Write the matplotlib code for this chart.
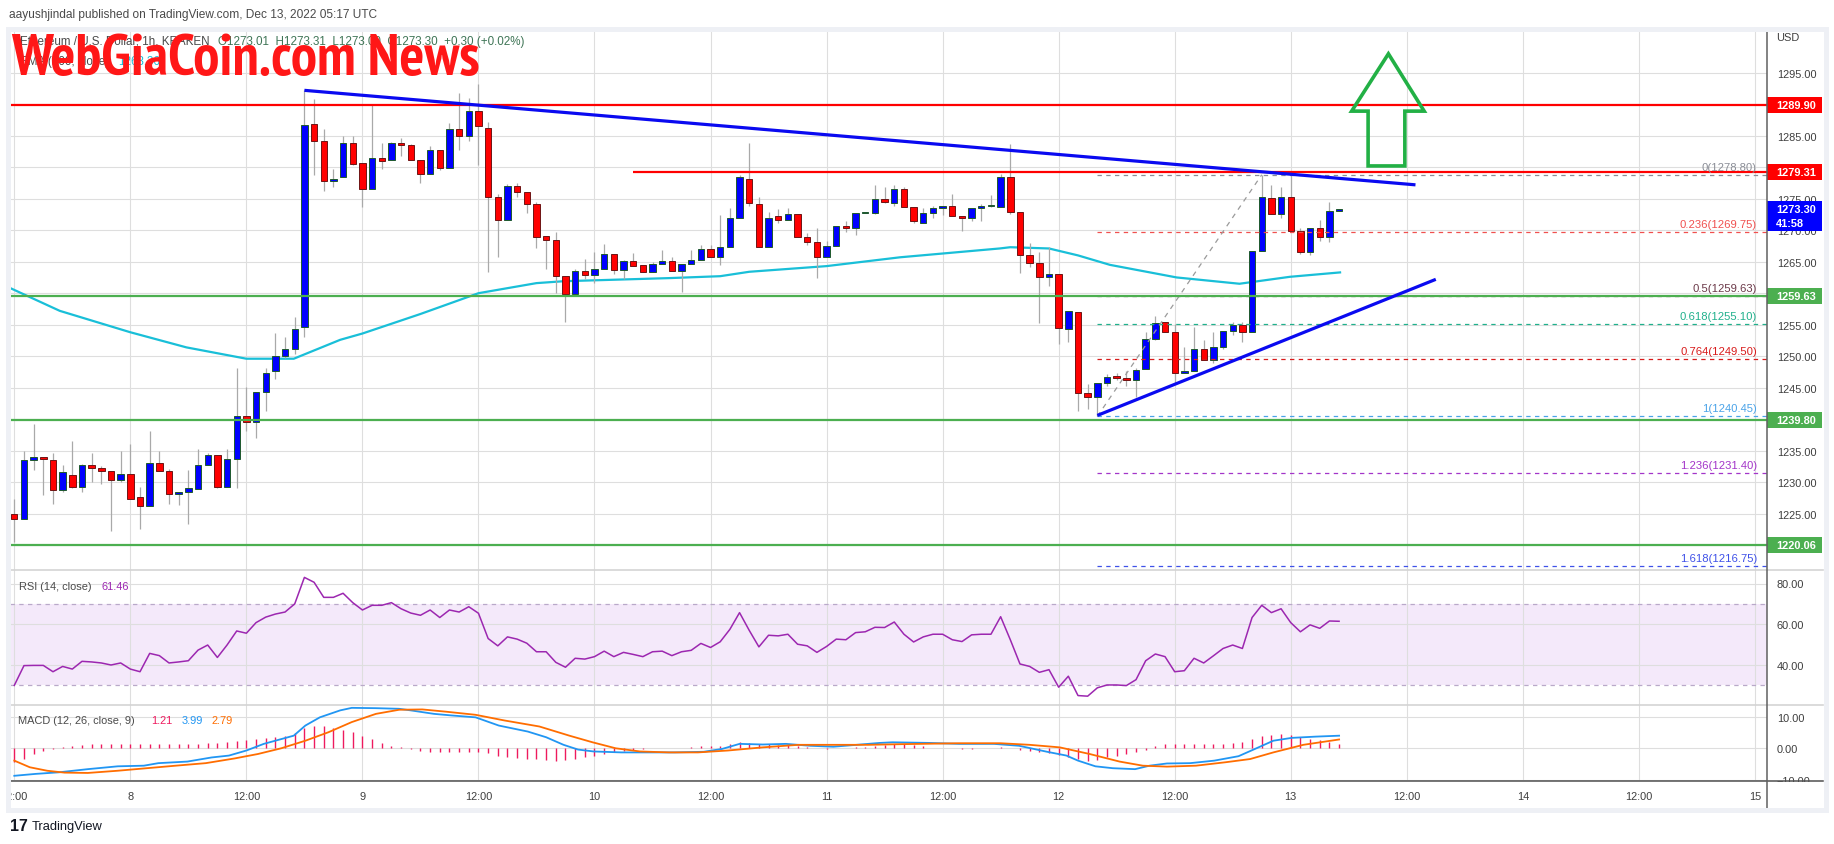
import matplotlib
matplotlib.use("Agg")
import matplotlib.pyplot as plt
import matplotlib.transforms as mtransforms
from matplotlib import font_manager
from matplotlib.font_manager import FontProperties
from matplotlib.patches import Rectangle, Polygon
from matplotlib.lines import Line2D

plt.rcParams['font.family'] = ['Liberation Sans', 'DejaVu Sans']

# ---------------- data (hour index 0 = Dec 7 12:00 UTC, 1h candles) ----------------
opens = [1225.0, 1224.1, 1233.6, 1234.0, 1233.6, 1228.8, 1231.2, 1229.3, 1232.7, 1232.2,
         1231.7, 1230.4, 1231.3, 1227.6, 1226.3, 1233.1, 1231.7, 1228.1, 1228.4, 1229.0,
         1232.8, 1234.3, 1229.3, 1233.7, 1240.5, 1239.5, 1244.3, 1247.6, 1250.1, 1251.2,
         1254.6, 1286.9, 1284.2, 1277.8, 1278.4, 1283.9, 1280.6, 1276.5, 1281.4, 1281.1,
         1283.8, 1283.5, 1281.2, 1279.0, 1282.8, 1279.8, 1286.0, 1285.0, 1288.9, 1286.2,
         1275.3, 1271.6, 1277.0, 1276.0, 1274.1, 1269.0, 1268.5, 1262.7, 1259.9, 1263.6,
         1262.9, 1263.8, 1266.3, 1263.7, 1265.1, 1264.4, 1263.3, 1264.7, 1265.1, 1263.6,
         1264.7, 1265.3, 1267.0, 1265.8, 1267.4, 1272.0, 1278.2, 1274.2, 1267.3, 1272.2,
         1271.6, 1272.5, 1268.9, 1268.2, 1265.7, 1267.5, 1270.6, 1270.3, 1272.7, 1272.8,
         1274.9, 1274.3, 1276.6, 1273.7, 1271.2, 1272.8, 1273.6, 1273.8, 1272.3, 1272.0,
         1273.6, 1273.8, 1273.7, 1278.5, 1272.9, 1266.0, 1264.8, 1262.5, 1263.1, 1254.3,
         1257.0, 1244.1, 1243.6, 1245.7, 1246.8, 1246.6, 1246.3, 1247.9, 1252.8, 1255.4,
         1253.9, 1247.3, 1247.6, 1251.2, 1249.4, 1251.4, 1254.0, 1255.0, 1253.9, 1266.7,
         1275.1, 1272.6, 1275.3, 1269.8, 1266.5, 1270.3, 1269.0, 1273.01]
highs = [1227.3, 1235.0, 1239.3, 1234.0, 1234.7, 1232.7, 1236.5, 1232.9, 1234.6, 1232.5,
         1231.8, 1235.0, 1236.1, 1229.2, 1238.1, 1235.0, 1232.1, 1228.5, 1231.9, 1235.3,
         1234.6, 1234.3, 1235.3, 1248.1, 1245.1, 1244.3, 1248.2, 1253.7, 1253.1, 1256.2,
         1292.2, 1290.8, 1286.1, 1279.7, 1285.0, 1285.0, 1280.6, 1289.8, 1283.9, 1284.0,
         1284.7, 1283.7, 1281.2, 1283.4, 1282.8, 1287.0, 1291.7, 1291.0, 1293.2, 1287.1,
         1275.8, 1277.3, 1277.5, 1276.0, 1274.4, 1269.0, 1269.7, 1262.7, 1263.8, 1265.4,
         1266.5, 1267.8, 1266.3, 1265.3, 1266.4, 1264.4, 1264.9, 1266.9, 1265.8, 1264.7,
         1266.9, 1267.7, 1267.7, 1272.4, 1273.5, 1278.8, 1283.8, 1275.2, 1272.9, 1273.4,
         1273.5, 1272.5, 1269.6, 1270.3, 1268.3, 1270.6, 1271.4, 1272.7, 1272.8, 1277.1,
         1276.8, 1277.2, 1276.9, 1273.7, 1273.5, 1273.9, 1273.8, 1275.7, 1272.3, 1273.6,
         1274.2, 1275.6, 1278.9, 1283.7, 1272.9, 1267.9, 1266.5, 1267.3, 1263.1, 1257.2,
         1257.0, 1245.6, 1245.8, 1247.2, 1247.3, 1247.7, 1248.1, 1253.9, 1256.4, 1255.5,
         1255.1, 1251.4, 1254.6, 1252.6, 1253.8, 1254.0, 1255.5, 1255.4, 1266.7, 1278.8,
         1277.2, 1276.8, 1278.9, 1270.4, 1270.3, 1271.6, 1274.5, 1273.31]
lows = [1220.5, 1224.1, 1231.9, 1228.0, 1226.6, 1228.4, 1229.1, 1228.4, 1230.1, 1229.7,
        1222.2, 1230.1, 1227.4, 1222.5, 1226.3, 1231.7, 1226.6, 1226.4, 1223.3, 1229.0,
        1232.7, 1229.1, 1229.3, 1229.1, 1238.2, 1237.0, 1241.3, 1246.4, 1249.7, 1250.4,
        1253.1, 1278.8, 1276.2, 1276.9, 1278.4, 1280.3, 1273.7, 1276.5, 1279.7, 1281.1,
        1281.8, 1281.2, 1277.5, 1279.0, 1279.6, 1279.8, 1282.8, 1284.2, 1280.4, 1263.4,
        1265.7, 1271.6, 1275.2, 1272.8, 1267.1, 1263.9, 1260.1, 1255.4, 1259.9, 1262.2,
        1261.6, 1263.8, 1263.0, 1262.2, 1264.3, 1263.3, 1263.3, 1264.7, 1263.5, 1260.2,
        1264.7, 1265.3, 1265.8, 1264.5, 1267.4, 1272.0, 1273.9, 1267.3, 1267.3, 1271.2,
        1271.6, 1269.0, 1267.7, 1262.4, 1265.7, 1267.5, 1269.7, 1269.3, 1272.7, 1272.6,
        1274.3, 1273.9, 1273.7, 1271.2, 1271.2, 1272.0, 1272.4, 1272.3, 1269.8, 1271.4,
        1271.4, 1273.7, 1273.7, 1272.6, 1263.2, 1264.1, 1255.3, 1261.2, 1251.9, 1252.3,
        1241.3, 1241.6, 1240.45, 1245.3, 1246.2, 1245.2, 1243.5, 1247.9, 1252.5, 1253.9,
        1245.6, 1247.3, 1247.6, 1249.4, 1249.0, 1251.1, 1253.3, 1252.2, 1253.9, 1266.7,
        1272.6, 1272.0, 1269.8, 1266.2, 1266.1, 1268.3, 1268.1, 1273.0]
closes = [1224.1, 1233.6, 1234.0, 1233.7, 1228.8, 1231.6, 1229.3, 1232.7, 1232.2, 1231.7,
          1230.4, 1231.3, 1227.4, 1226.3, 1233.1, 1231.7, 1228.2, 1228.4, 1229.0, 1232.7,
          1234.3, 1229.3, 1233.7, 1240.5, 1239.5, 1244.3, 1247.4, 1250.1, 1251.2, 1254.3,
          1286.7, 1284.2, 1277.8, 1278.2, 1283.9, 1280.5, 1276.5, 1281.4, 1281.0, 1283.8,
          1283.5, 1281.2, 1279.0, 1282.8, 1279.8, 1286.0, 1285.0, 1288.9, 1286.5, 1275.3,
          1271.6, 1277.0, 1276.0, 1274.1, 1269.0, 1268.5, 1262.7, 1259.9, 1263.6, 1262.9,
          1263.9, 1266.3, 1263.7, 1265.1, 1264.3, 1263.3, 1264.7, 1265.1, 1263.5, 1264.7,
          1265.2, 1267.0, 1265.8, 1267.4, 1272.0, 1278.4, 1274.3, 1267.3, 1272.0, 1271.6,
          1272.5, 1269.0, 1268.2, 1265.7, 1267.5, 1270.6, 1270.3, 1272.7, 1272.8, 1274.9,
          1274.5, 1276.6, 1273.7, 1271.4, 1272.8, 1273.6, 1273.8, 1272.3, 1272.0, 1273.6,
          1273.9, 1273.8, 1278.5, 1272.9, 1266.0, 1264.8, 1262.5, 1263.1, 1254.4, 1257.2,
          1244.1, 1243.6, 1245.8, 1246.7, 1246.6, 1246.3, 1247.8, 1252.8, 1255.2, 1253.9,
          1247.3, 1247.6, 1251.2, 1249.4, 1251.4, 1254.0, 1255.0, 1253.9, 1266.7, 1275.2,
          1272.6, 1275.3, 1269.8, 1266.5, 1270.3, 1269.0, 1273.0, 1273.30]
hours = list(range(len(closes)))

# 100-period moving average
ma_hours = [-0.4, 4.7, 12, 17.8, 24, 28.9, 33.7, 36, 42, 48, 54, 56.8, 67.8, 73, 76, 84,
            91.6, 101.9, 103, 107, 110, 113.3, 120.2, 126.7, 131.9, 137.1]
ma_values = [1260.8, 1257.2, 1253.8, 1251.4, 1249.6, 1249.6, 1252.6, 1253.6, 1256.7, 1260.0,
             1261.6, 1261.9, 1262.4, 1262.7, 1263.4, 1264.3, 1265.7, 1267.1, 1267.3, 1267.1,
             1266.0, 1264.5, 1262.5, 1261.5, 1262.6, 1263.3]

rsi_values = [30.0, 39.7, 39.8, 39.8, 36.7, 39.3, 38.0, 41.8, 41.5, 41.0,
              40.0, 41.0, 38.0, 36.7, 45.7, 44.6, 41.0, 41.5, 42.1, 47.3,
              49.8, 43.7, 49.8, 56.7, 55.6, 60.8, 63.5, 65.0, 66.0, 70.0,
              83.0, 80.6, 73.2, 73.2, 75.2, 70.6, 67.0, 69.3, 69.3, 70.6,
              67.6, 65.5, 64.4, 67.0, 63.3, 67.0, 66.0, 68.6, 65.4, 53.0,
              49.4, 53.8, 52.7, 50.7, 46.5, 46.5, 41.3, 38.9, 43.3, 42.9,
              44.1, 46.8, 44.1, 46.2, 45.2, 44.1, 46.5, 46.8, 44.6, 46.5,
              47.2, 50.6, 48.6, 51.4, 57.5, 65.7, 57.0, 48.9, 54.6, 54.3,
              55.1, 50.2, 49.4, 46.2, 49.1, 52.7, 52.4, 55.9, 56.3, 58.5,
              58.4, 61.1, 55.1, 51.3, 53.8, 55.1, 55.1, 52.4, 51.5, 54.8,
              55.1, 55.1, 63.7, 52.4, 40.5, 39.3, 36.4, 37.7, 29.1, 34.5,
              25.0, 24.7, 28.8, 30.2, 30.2, 29.9, 32.8, 42.1, 45.4, 44.1,
              36.7, 37.2, 43.3, 41.0, 44.5, 48.1, 49.8, 48.1, 63.3, 69.3,
              65.7, 67.6, 60.8, 56.3, 59.7, 58.0, 61.6, 61.46]

macd_hours = [0, 2.2, 4.6, 7.6, 10.7, 13.4, 14.9, 17.9, 20.4, 22.2, 24.0, 25.8, 28.9, 30.1,
              31.6, 33.7, 34.9, 37.4, 39.8, 41.0, 43.4, 45.2, 47.7, 48.9, 50.1, 53.1, 55.0,
              56.8, 58.3, 59.9, 62.8, 65.3, 68.3, 71.3, 73.2, 75.0, 77.4, 79.8, 82.3, 84.7,
              87.1, 89.5, 90.8, 94.7, 97.7, 101.3, 103.9, 106.8, 108.8, 110.0, 111.8, 113.6,
              115.9, 117.4, 119.2, 121.6, 124.1, 126.6, 128.3, 130.2, 132.1, 134.6, 137]
macd_values = [-8.7, -8.1, -7.6, -6.6, -5.7, -5.5, -4.7, -4.2, -2.9, -2.3, -0.7, 1.4, 4.0, 7.2,
               9.8, 12.0, 12.8, 12.7, 12.5, 12.0, 10.9, 10.4, 9.8, 8.5, 7.2, 5.3, 3.5,
               1.1, -0.4, -1.0, -1.3, -1.3, -1.3, -1.1, -0.2, 1.4, 1.2, 1.4, 0.8, 0.5,
               1.1, 1.7, 1.9, 1.7, 1.4, 1.4, 0.8, -1.1, -2.3, -3.9, -5.7, -6.3,
               -6.6, -5.5, -4.8, -4.7, -3.9, -2.5, -0.2, 2.4, 3.3, 3.7, 3.99]
signal_hours = [0, 1.6, 3.4, 5.2, 7.6, 10.7, 13.7, 16.7, 19.8, 22.8, 25.2, 27.6, 30.1, 32.5,
                34.9, 37.4, 39.8, 42.2, 44.6, 47.7, 50.7, 54.3, 57.4, 59.8, 62.2, 64.7, 67.7,
                70.7, 73.8, 77.4, 81.1, 84.7, 88.3, 91.6, 97.7, 102, 105, 108.1, 111.2, 114.3,
                116.7, 119.2, 122.2, 125.3, 127.8, 130.2, 133.3, 137]
signal_values = [-3.9, -6.0, -7.1, -7.7, -7.8, -7.1, -6.3, -5.5, -4.7, -3.2, -1.8, 0.0, 2.4, 5.1,
                 8.3, 10.9, 12.2, 12.3, 11.6, 10.6, 8.8, 6.9, 4.0, 1.9, 0.0, -1.0, -1.3,
                 -1.3, -0.7, 0.3, 1.1, 1.1, 1.1, 1.3, 1.6, 1.6, 1.1, 0.3, -1.8, -4.2,
                 -5.5, -5.8, -5.5, -4.4, -3.4, -1.3, 1.1, 2.79]
hist_values = [-4.4, -3.4, -1.8, -0.7, -0.2, 0.4, 0.6, 1.1, 1.3, 1.3,
               1.3, 1.3, 1.3, 1.3, 1.3, 1.4, 1.4, 1.4, 1.4, 1.5,
               1.6, 1.7, 1.9, 2.3, 2.6, 2.9, 3.3, 3.6, 4.0, 4.9,
               6.3, 6.9, 6.9, 6.3, 5.9, 5.1, 4.0, 2.8, 1.7, 0.8,
               0.3, -0.2, -0.8, -1.1, -1.3, -1.3, -1.3, -1.3, -1.1, -1.6,
               -2.3, -2.8, -3.1, -3.3, -3.5, -3.7, -3.9, -3.7, -3.4, -2.9,
               -2.3, -1.8, -1.3, -1.0, -0.5, -0.2, 0.0, 0.0, 0.1, 0.2,
               0.5, 0.6, 0.7, 0.8, 1.5, 1.9, 1.6, 1.4, 1.3, 1.2,
               1.0, 0.6, 0.3, 0.0, -0.1, 0.0, 0.1, 0.3, 0.5, 0.7,
               1.1, 1.3, 1.3, 1.1, 0.6, 0.2, 0.0, 0.0, -0.3, -0.2,
               0.0, 0.0, 0.4, 0.2, -0.4, -1.0, -1.3, -1.6, -2.0, -2.6,
               -3.4, -3.9, -3.6, -2.9, -2.3, -1.8, -1.3, -0.4, 0.8, 1.4,
               1.3, 1.3, 1.4, 1.4, 1.4, 1.4, 1.7, 1.9, 2.8, 4.0,
               4.3, 4.6, 4.2, 3.5, 3.0, 2.6, 1.9, 1.21]

# drawings
resistance_top = 1289.90
resistance_mid = 1279.31
resistance_mid_start = 64
support_levels = [1259.63, 1239.80, 1220.06]
fib_ratios = ["0", "0.236", "0.5", "0.618", "0.764", "1", "1.236", "1.618"]
fib_prices = [1278.80, 1269.75, 1259.63, 1255.10, 1249.50, 1240.45, 1231.40, 1216.75]
fib_colors = ['#8a8d96', '#f0504f', '#6b3848', '#20b08c', '#d81b1b', '#4aa3e8', '#a335c9', '#3f51e8']
fib_start = 112
fib_diag_h = [112, 129]
fib_diag_p = [1240.45, 1278.80]
down_trend_h = [30, 144.9]
down_trend_p = [1292.2, 1277.2]
up_trend_h = [112, 147]
up_trend_p = [1240.6, 1262.2]
arrow_h = [142.1, 145.8, 143.8, 143.8, 140.0, 140.0, 138.3]
arrow_p = [1298.0, 1288.9, 1288.9, 1280.2, 1280.2, 1288.9, 1288.9]

price_ticks = list(range(1220, 1300, 5))
time_tick_hours = list(range(0, 181, 12))
time_labels = ["12:00", "8", "12:00", "9", "12:00", "10", "12:00", "11",
               "12:00", "12", "12:00", "13", "12:00", "14", "12:00", "15"]
last_price = 1273.30
countdown = "41:58"

# ---------------- layout (pixel positions of the panes) ----------------
W, H = 1834, 845
L, R = 10, 1767
P_TOP, P_BOT, RSI_BOT, MACD_BOT = 33, 571, 706, 782
X0, XSTEP = 14.3, 9.67      # pixel of first candle, pixels per hour
PX = 6.3                    # pixels per price unit


def fx(x):
    return x / W


def fy(y):
    return 1 - y / H


fig = plt.figure(figsize=(W / 100, H / 100), dpi=100)
ax = fig.add_axes([fx(L), fy(P_BOT), (R - L) / W, (P_BOT - P_TOP) / H])
ax_rsi = fig.add_axes([fx(L), fy(RSI_BOT), (R - L) / W, (RSI_BOT - P_BOT) / H])
ax_macd = fig.add_axes([fx(L), fy(MACD_BOT), (R - L) / W, (MACD_BOT - RSI_BOT) / H])

xlim = ((L - X0) / XSTEP, (R - X0) / XSTEP)
grid_c = '#dedede'
tick_c = '#3e3e3e'
for a in (ax, ax_rsi, ax_macd):
    a.set_xlim(*xlim)
    for s in a.spines.values():
        s.set_visible(False)
    a.set_xticks(time_tick_hours)
    a.tick_params(axis='x', length=0, labelbottom=False)
    a.yaxis.tick_right()
    a.tick_params(axis='y', length=0, pad=7, labelsize=7.9, labelcolor=tick_c)
    a.grid(True, color=grid_c, lw=0.8, zorder=0)
    a.set_axisbelow(True)
    a.set_facecolor('none')

# ---- price pane ----
ax.set_ylim(1285 - (P_BOT - 136.7) / PX, 1285 + (136.7 - P_TOP) / PX)
ax.set_yticks(price_ticks)
ax.set_yticklabels([f"{t:.2f}" for t in price_ticks])

ax.plot(ma_hours, ma_values, color='#19bfd8', lw=1.6, zorder=2)

up = [c >= o for o, c in zip(opens, closes)]
body_bottom = [min(o, c) for o, c in zip(opens, closes)]
body_height = [max(abs(c - o), 0.18) for o, c in zip(opens, closes)]
ax.vlines(hours, lows, highs, color='#a9a9a9', lw=0.9, zorder=2.5)
ax.bar(hours, body_height, bottom=body_bottom, width=0.66,
       color=['#0000ff' if u else '#ff0000' for u in up],
       edgecolor=['#1f5a2c' if u else '#6e1414' for u in up], linewidth=0.7, zorder=3)

# fibonacci retracement
for p, c in zip(fib_prices, fib_colors):
    ax.hlines(p, fib_start, xlim[1], colors=c, lw=0.9, linestyles=(0, (3.5, 3.5)), zorder=3.5)
ax.plot(fib_diag_h, fib_diag_p, color='#9a9a9a', lw=0.9, ls=(0, (4, 4)), zorder=3.5)

# horizontal levels and trend lines
ax.axhline(resistance_top, color='#ff0000', lw=1.6, zorder=4)
ax.hlines(resistance_mid, resistance_mid_start, xlim[1], colors='#ff0000', lw=1.6, zorder=4)
for lvl in support_levels:
    ax.axhline(lvl, color='#4caf50', lw=1.6, zorder=4)
ax.plot(down_trend_h, down_trend_p, color='#0a0af0', lw=2.3, solid_capstyle='butt', zorder=4.5)
ax.plot(up_trend_h, up_trend_p, color='#0a0af0', lw=2.3, solid_capstyle='butt', zorder=4.5)
ax.add_patch(Polygon(list(zip(arrow_h, arrow_p)), closed=True, fill=False,
                     edgecolor='#22b045', lw=2.6, joinstyle='miter', zorder=5))

trans_p = mtransforms.blended_transform_factory(ax.transAxes, ax.transData)
box_w = (1822 - R) / (R - L)
txt_x = 1 + 9 / (R - L)
lab_x = (1757 - L) / (R - L)

for r, p, c in zip(fib_ratios, fib_prices, fib_colors):
    ax.text(lab_x, p + 5 / PX, f"{r}({p:.2f})", transform=trans_p, ha='right',
            va='baseline', color=c, fontsize=8.1, zorder=6)


def price_box(p, label, color, up_px=8, down_px=8):
    ax.add_patch(Rectangle((1.0, p - down_px / PX), box_w, (up_px + down_px) / PX,
                           transform=trans_p, facecolor=color, edgecolor='none',
                           clip_on=False, zorder=6))
    ax.text(txt_x, p, label, transform=trans_p, color='white', fontsize=7.9,
            fontweight='bold', va='center', ha='left', clip_on=False, zorder=7)


price_box(resistance_top, f"{resistance_top:.2f}", '#ff0000')
price_box(resistance_mid, f"{resistance_mid:.2f}", '#ff0000')
for lvl in support_levels:
    price_box(lvl, f"{lvl:.2f}", '#4caf50')
price_box(last_price, f"{last_price:.2f}", '#0000ff', up_px=8, down_px=22)
ax.text(txt_x, last_price - 14 / PX, countdown, transform=trans_p, color='white',
        fontsize=7.9, fontweight='bold', va='center', ha='left', clip_on=False, zorder=7)
ax.text(txt_x, 1.0, "USD", transform=mtransforms.blended_transform_factory(ax.transAxes, ax.transAxes),
        color=tick_c, fontsize=7.9, va='top', ha='left', clip_on=False)

# ---- RSI pane ----
ax_rsi.set_ylim(40 - 40 / 2.0375, 80 + 13.5 / 2.0375)
ax_rsi.set_yticks([40, 60, 80])
ax_rsi.set_yticklabels(["40.00", "60.00", "80.00"])
ax_rsi.axhspan(30, 70, color='#a64bd6', alpha=0.12, lw=0, zorder=0.5)
for lvl in (30, 70):
    ax_rsi.axhline(lvl, color='#b9a9c9', lw=0.9, ls=(0, (3.5, 3.5)), zorder=1)
ax_rsi.plot(hours, rsi_values, color='#9c27b0', lw=1.1, zorder=3)
ax_rsi.text(8.6 / (R - L), 1 - 16 / (RSI_BOT - P_BOT), "RSI (14, close)", transform=ax_rsi.transAxes,
            color='#4a4a4a', fontsize=7.9, va='center')
ax_rsi.text(92 / (R - L), 1 - 16 / (RSI_BOT - P_BOT), f"{rsi_values[-1]:.2f}", transform=ax_rsi.transAxes,
            color='#9c27b0', fontsize=7.9, va='center')

# ---- MACD pane ----
ax_macd.set_ylim(-(MACD_BOT - 749.3) / 3.16, (749.3 - RSI_BOT) / 3.16)
ax_macd.set_yticks([-10, 0, 10])
ax_macd.set_yticklabels(["\u221210.00", "0.00", "10.00"])
ax_macd.vlines(hours, 0, hist_values, colors='#ee1a5e', lw=1.0, zorder=2)
ax_macd.plot(macd_hours, macd_values, color='#2196f3', lw=1.3, zorder=3)
ax_macd.plot(signal_hours, signal_values, color='#ff6d00', lw=1.3, zorder=3)
ax_macd.set_xticklabels(time_labels)
ax_macd.tick_params(axis='x', labelbottom=True, labelsize=7.9, labelcolor=tick_c, pad=7)
my = 1 - 15 / (MACD_BOT - RSI_BOT)
ax_macd.text(7.6 / (R - L), my, "MACD (12, 26, close, 9)", transform=ax_macd.transAxes,
             color='#4a4a4a', fontsize=7.9, va='center')
for xx, val, c in [(141, 1.21, '#ee1a5e'), (172, 3.99, '#2196f3'), (201, 2.79, '#ff6d00')]:
    ax_macd.text(xx / (R - L), my, f"{val:.2f}", transform=ax_macd.transAxes,
                 color=c, fontsize=7.9, va='center')

# ---- chart chrome ----
def fig_line(xs, ys, **kw):
    fig.add_artist(Line2D([fx(x) for x in xs], [fy(y) for y in ys], transform=fig.transFigure, **kw))


fig_line([L, 1823], [P_BOT, P_BOT], color='#d4d4d4', lw=1.2, zorder=3)
fig_line([L, 1823], [RSI_BOT, RSI_BOT], color='#d4d4d4', lw=1.2, zorder=3)
fig_line([L, 1823], [MACD_BOT, MACD_BOT], color='#505050', lw=1.1, zorder=3)
fig_line([R, R], [P_TOP, 809], color='#606060', lw=1.1, zorder=3)

fig.add_artist(Rectangle((fx(1768), fy(790)), (1822 - 1768) / W, 7 / H, transform=fig.transFigure,
                         facecolor='white', edgecolor='none', zorder=4))
fig.add_artist(Rectangle((0, fy(812)), fx(9), 30 / H, transform=fig.transFigure,
                         facecolor='white', edgecolor='none', zorder=4))
fig.add_artist(Rectangle((fx(7.5), fy(810.5)), (1825.5 - 7.5) / W, (810.5 - 30) / H,
                         transform=fig.transFigure, fill=False, edgecolor='#eef0f5', lw=3.6, zorder=5))

fig.text(fx(9), fy(15), "aayushjindal published on TradingView.com, Dec 13, 2022 05:17 UTC",
         fontsize=8.6, color='#4a4a4a', va='center')
fig.text(fx(20), fy(42), "Ethereum / U.S. Dollar, 1h, KRAKEN", fontsize=8.4, color='#4a4a4a', va='center')
fig.text(fx(218), fy(42), "O1273.01  H1273.31  L1273.00  C1273.30  +0.30 (+0.02%)",
         fontsize=8.4, color='#3f7556', va='center')
fig.text(fx(20), fy(62), "EMA (100, close)", fontsize=8.4, color='#4a4a4a', va='center')
fig.text(fx(118), fy(62), "1263.36", fontsize=8.4, color='#19bfd8', va='center')

# watermark: pick the narrowest bold face installed, then size it to the reference width
def _is_bold(f):
    w = f.weight
    return (isinstance(w, int) and w >= 700) or (isinstance(w, str) and w in ('bold', 'heavy', 'black', 'extra bold'))


def _narrow_rank(f):
    n = f.name.lower()
    if 'narrow' in n:
        return 0
    if 'condensed' in n or f.stretch in ('condensed', 'extra-condensed', 'ultra-condensed', 'semi-condensed'):
        return 1
    return 9


cands = sorted([f for f in font_manager.fontManager.ttflist if _is_bold(f) and _narrow_rank(f) < 9],
               key=_narrow_rank)
if cands:
    wm_font = FontProperties(fname=cands[0].fname, size=37)
else:
    wm_font = FontProperties(family='DejaVu Sans', weight='bold', size=37)
wm = fig.text(fx(11), fy(75), "WebGiaCoin.com News", fontproperties=wm_font,
              color='#ff1717', va='baseline', zorder=10)
renderer = fig.canvas.get_renderer()
wm_w = wm.get_window_extent(renderer=renderer).width
wm.set_fontsize(37 * 469 / wm_w)

fig.text(fx(10), fy(827), "17", fontsize=11.5, fontweight='bold', color='#131722', va='center')
fig.text(fx(32), fy(827), "TradingView", fontsize=9.3, color='#131722', va='center')

fig.savefig("out.png", dpi=100)
